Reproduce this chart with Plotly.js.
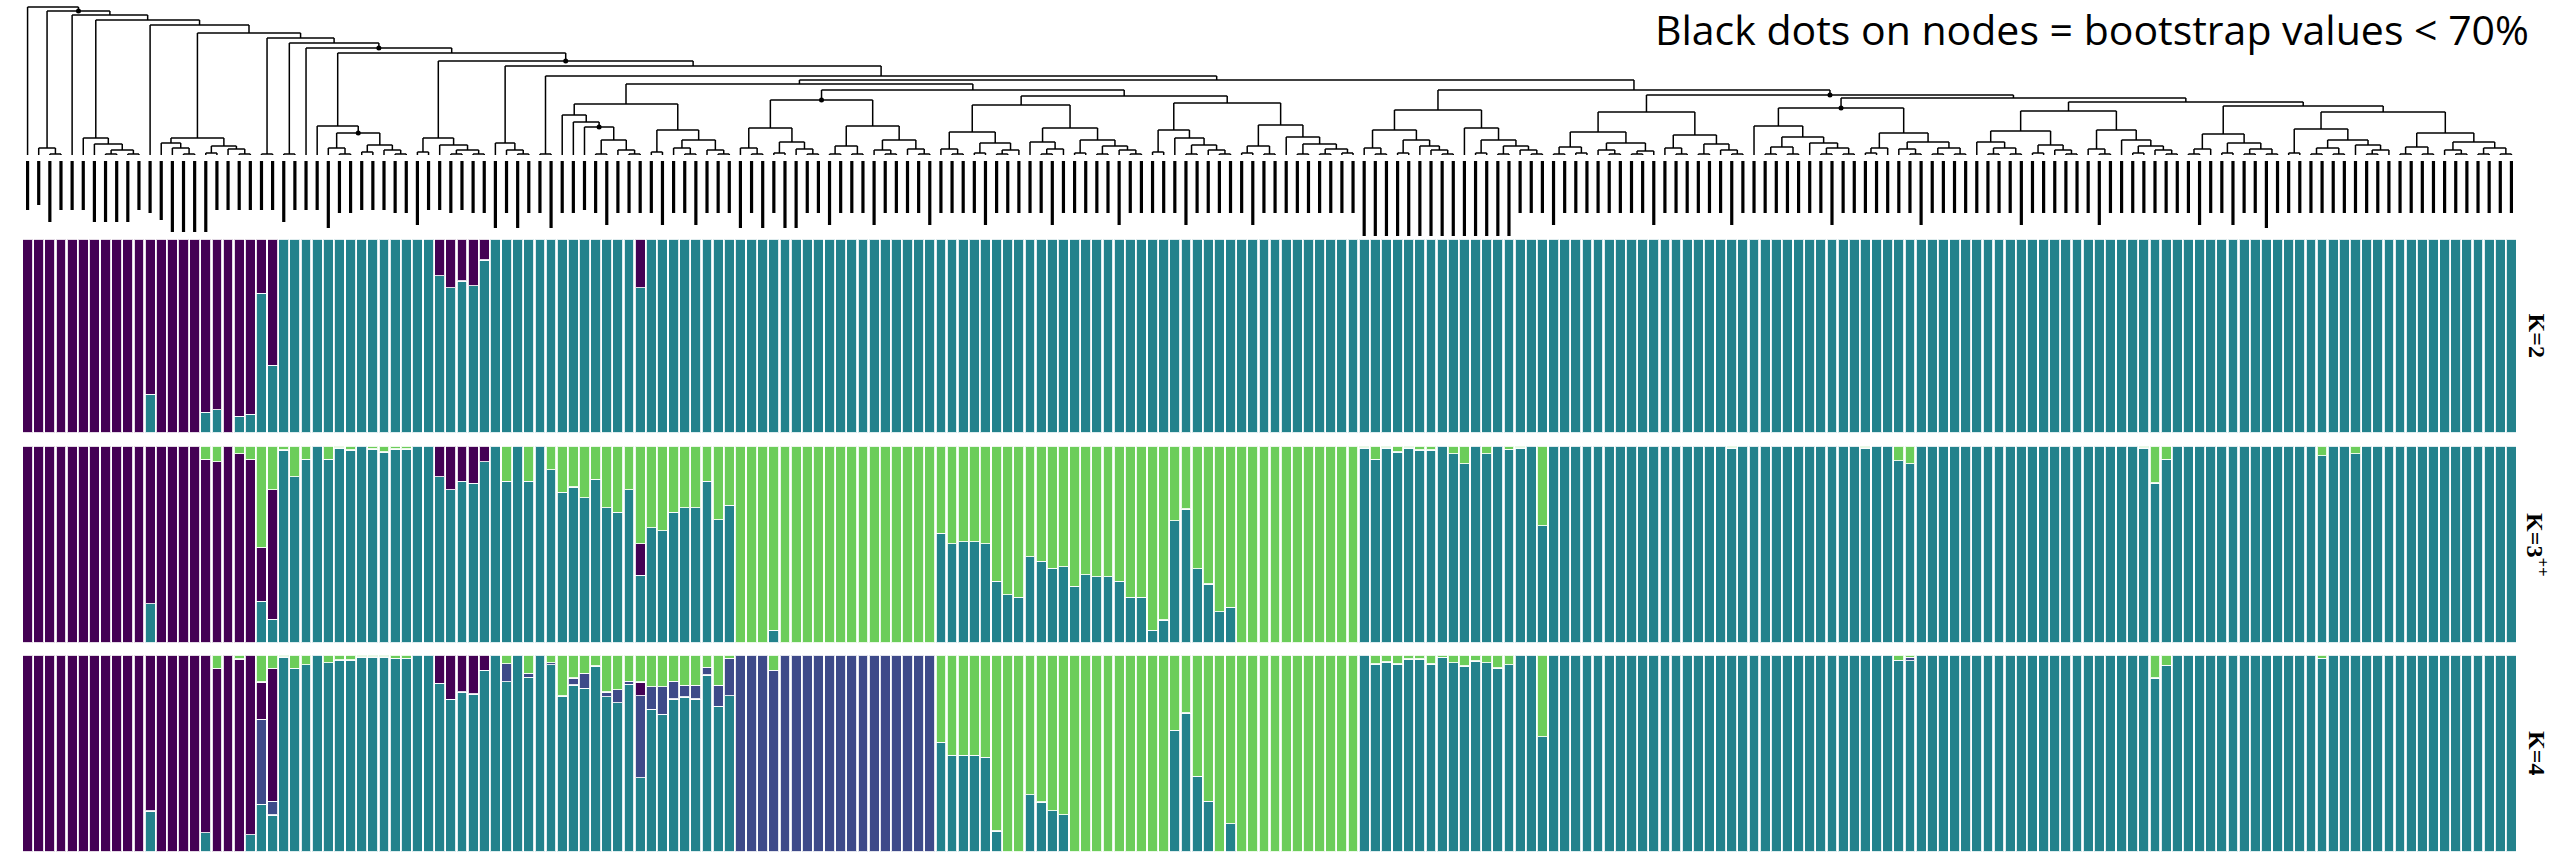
<!DOCTYPE html>
<html><head><meta charset="utf-8">
<script src="https://cdn.plot.ly/plotly-3.0.1.min.js"></script>
<style>html,body{margin:0;padding:0;background:#fff}#chart{width:2554px;height:852px}</style>
</head><body><div id="chart"></div>
<script>
// ---------------- DATA ----------------
// ancestry proportions per sample (224 samples, dendrogram order); teal = remainder
const k2Purple = [
1,1,1,1,1,1,1,1,1,1,1,0.8,1,1,1,1,
0.894,0.88,1,0.914,0.904,0.28,0.65,0,0,0,0,0,0,0,0,0,
0,0,0,0,0,0.19,0.25,0.216,0.24,0.108,0,0,0,0,0,0,
0,0,0,0,0,0,0,0.25,0,0,0,0,0,0,0,0,
0,0,0,0,0,0,0,0,0,0,0,0,0,0,0,0,
0,0,0,0,0,0,0,0,0,0,0,0,0,0,0,0,
0,0,0,0,0,0,0,0,0,0,0,0,0,0,0,0,
0,0,0,0,0,0,0,0,0,0,0,0,0,0,0,0,
0,0,0,0,0,0,0,0,0,0,0,0,0,0,0,0,
0,0,0,0,0,0,0,0,0,0,0,0,0,0,0,0,
0,0,0,0,0,0,0,0,0,0,0,0,0,0,0,0,
0,0,0,0,0,0,0,0,0,0,0,0,0,0,0,0,
0,0,0,0,0,0,0,0,0,0,0,0,0,0,0,0,
0,0,0,0,0,0,0,0,0,0,0,0,0,0,0,0];

const k3Purple = [
1,1,1,1,1,1,1,1,1,1,1,0.8,1,1,1,1,
0.933,0.92,1,0.96,0.933,0.273,0.657,0,0,0,0,0,0,0,0,0,
0,0,0,0,0,0.155,0.222,0.18,0.19,0.08,0,0,0,0,0,0,
0,0,0,0,0,0,0,0.162,0,0,0,0,0,0,0,0,
0,0,0,0,0,0,0,0,0,0,0,0,0,0,0,0,
0,0,0,0,0,0,0,0,0,0,0,0,0,0,0,0,
0,0,0,0,0,0,0,0,0,0,0,0,0,0,0,0,
0,0,0,0,0,0,0,0,0,0,0,0,0,0,0,0,
0,0,0,0,0,0,0,0,0,0,0,0,0,0,0,0,
0,0,0,0,0,0,0,0,0,0,0,0,0,0,0,0,
0,0,0,0,0,0,0,0,0,0,0,0,0,0,0,0,
0,0,0,0,0,0,0,0,0,0,0,0,0,0,0,0,
0,0,0,0,0,0,0,0,0,0,0,0,0,0,0,0,
0,0,0,0,0,0,0,0,0,0,0,0,0,0,0,0];

const k3Green = [
0,0,0,0,0,0,0,0,0,0,0,0,0,0,0,0,
0.067,0.08,0,0.04,0.067,0.515,0.222,0.02,0.155,0.067,0,0.067,0.01,0.02,0,0.015,
0.03,0.015,0.015,0,0,0,0,0,0,0,0,0.18,0,0.18,0,0.12,
0.236,0.208,0.263,0.17,0.313,0.337,0.222,0.495,0.414,0.43,0.337,0.313,0.313,0.18,0.374,0.3,
1,1,1,0.935,1,1,1,1,1,1,1,1,1,1,1,1,
1,1,0.444,0.495,0.485,0.485,0.495,0.687,0.754,0.768,0.562,0.586,0.62,0.612,0.713,0.653,
0.663,0.663,0.687,0.768,0.768,0.935,0.883,0.38,0.32,0.622,0.7,0.842,0.818,1,1,1,
1,1,1,1,1,1,1,1,0.01,0.067,0.01,0.03,0.01,0.02,0.02,0,
0.04,0.09,0,0.04,0,0.016,0.01,0,0.404,0,0,0,0,0,0,0,
0,0,0,0,0,0,0,0,0,0.01,0,0,0,0,0,0,
0,0,0,0,0,0.01,0,0,0.075,0.09,0,0,0,0,0,0,
0,0,0,0,0,0,0,0,0,0,0,0,0,0,0.01,0.188,
0.067,0,0,0,0,0,0,0,0,0,0,0,0,0,0.05,0,
0,0.04,0,0,0,0,0,0,0,0,0,0,0,0,0,0];

const k4Blue = [
0,0,0,0,0,0,0,0,0,0,0,0,0,0,0,0,
0,0,0,0,0,0.43,0.07,0,0,0,0,0,0,0,0,0,
0,0,0,0,0,0,0,0,0,0,0,0.09,0,0.02,0,0.01,
0,0.035,0.077,0,0.024,0.065,0.016,0.415,0.115,0.141,0.09,0.06,0.07,0.04,0.107,0.19,
1,1,1,0.923,1,1,1,1,1,1,1,1,1,1,1,1,
1,1,0,0,0,0,0,0,0,0,0,0,0,0,0,0,
0,0,0,0,0,0,0,0,0,0,0,0,0,0,0,0,
0,0,0,0,0,0,0,0,0,0,0,0,0,0,0,0,
0,0,0,0,0,0,0,0,0,0,0,0,0,0,0,0,
0,0,0,0,0,0,0,0,0,0,0,0,0,0,0,0,
0,0,0,0,0,0,0,0,0,0.016,0,0,0,0,0,0,
0,0,0,0,0,0,0,0,0,0,0,0,0,0,0,0,
0,0,0,0,0,0,0,0,0,0,0,0,0,0,0,0,
0,0,0,0,0,0,0,0,0,0,0,0,0,0,0,0];

const k4Purple = [
1,1,1,1,1,1,1,1,1,1,1,0.792,1,1,1,1,
0.903,0.933,1,0.98,0.913,0.19,0.675,0,0,0,0,0,0,0,0,0,
0,0,0,0,0,0.143,0.224,0.188,0.198,0.077,0,0,0,0,0,0,
0,0,0,0,0,0,0,0.07,0,0,0,0,0,0,0,0,
0,0,0,0,0,0,0,0,0,0,0,0,0,0,0,0,
0,0,0,0,0,0,0,0,0,0,0,0,0,0,0,0,
0,0,0,0,0,0,0,0,0,0,0,0,0,0,0,0,
0,0,0,0,0,0,0,0,0,0,0,0,0,0,0,0,
0,0,0,0,0,0,0,0,0,0,0,0,0,0,0,0,
0,0,0,0,0,0,0,0,0,0,0,0,0,0,0,0,
0,0,0,0,0,0,0,0,0,0,0,0,0,0,0,0,
0,0,0,0,0,0,0,0,0,0,0,0,0,0,0,0,
0,0,0,0,0,0,0,0,0,0,0,0,0,0,0,0,
0,0,0,0,0,0,0,0,0,0,0,0,0,0,0,0];

const k4Green = [
0,0,0,0,0,0,0,0,0,0,0,0,0,0,0,0,
0,0.067,0,0.02,0,0.137,0.067,0.01,0.067,0.05,0,0.04,0.025,0.025,0.01,0.01,
0.01,0.016,0.016,0,0,0,0,0,0,0,0,0.045,0,0.093,0,0.04,
0.208,0.117,0.093,0.056,0.188,0.177,0.133,0.137,0.161,0.161,0.133,0.153,0.153,0.062,0.153,0.016,
0,0,0,0.077,0,0,0,0,0,0,0,0,0,0,0,0,
0,0,0.444,0.51,0.51,0.51,0.52,0.893,1,1,0.71,0.746,0.79,0.81,1,1,
1,1,1,1,1,1,1,0.382,0.294,0.615,0.742,1,0.857,1,1,1,
1,1,1,1,1,1,1,1,0,0.046,0.036,0.046,0.02,0.02,0.046,0.012,
0.04,0.056,0.03,0.04,0.066,0.05,0,0,0.415,0,0,0,0,0,0,0,
0,0,0,0,0,0,0,0,0,0,0,0,0,0,0,0,
0,0,0,0,0,0,0,0,0.026,0.012,0,0,0,0,0,0,
0,0,0,0,0,0,0,0,0,0,0,0,0,0,0,0.117,
0.052,0,0,0,0,0,0,0,0,0,0,0,0,0,0.016,0,
0,0,0,0,0,0,0,0,0,0,0,0,0,0,0,0];

// lower end (px from top of tree panel) of each sample's name mark
const labelEnd = [
210,205,222,210,210,210,222,222,222,222,210,213,220,232,232,232,
232,210,210,210,210,210,210,222,210,210,210,228,213,213,210,210,
210,213,213,225,210,210,213,210,213,213,228,213,228,213,213,228,
213,213,210,213,225,213,213,213,213,225,213,213,225,213,213,213,
228,213,228,213,228,228,213,213,225,213,213,213,225,213,213,213,
213,225,213,213,213,213,225,213,213,213,213,213,225,213,213,213,
213,213,225,213,213,213,213,213,225,213,213,213,213,213,225,213,
213,213,213,213,213,213,213,213,236,236,236,236,236,236,236,236,
236,236,236,236,236,236,213,213,213,225,213,213,213,213,213,213,
213,213,225,213,213,213,213,213,213,225,213,213,213,213,213,213,
213,213,225,213,213,213,213,213,213,213,225,213,213,213,213,213,
213,213,213,225,213,213,213,213,213,213,225,213,213,213,213,213,
213,213,213,225,213,213,225,213,213,228,213,213,213,213,213,213,
213,213,213,213,213,213,213,213,213,213,213,213,213,213,213,213];

// tree topology: '*' = sample, ')h' = node height (px from top), 'd' = bootstrap < 70%
const A1 = "(*,(*,*)154)148";
const A2 = "(*,(*,((*,*)154,(*,*)154)150)144)138";
const A3 = "((*,(*,(*,*)154)148)143,((*,*)153,(*,(*,*)154)149)146)138";
const A4 = "(*,*)154";
const A5 = "(*,*)154";
const A6 = "(*,((*,(*,*)154)148,((*,*)152,(*,(*,*)154)150)145)133d)126";
const A7 = "((*,*)152,(*,((*,*)154,(*,*)154)150)145)138";
const A8 = "(*,(*,(*,*)154)150)143";
const A9 = "(*,*)154";
const G1 = "(*,(*,(*,((*,*)154,(*,(*,*)154)150)140)127d)122)115";
const G2 = "((*,*)152,((*,(*,*)154)148,(*,(*,*)154)150)140)130";
const G3 = "((*,(*,*)154)148,((*,*)153,(*,(*,*)154)149)142)128";
const G4 = "(((*,*)154,(*,*)154)146,((*,(*,*)154)150,(*,(*,*)154)149)140)126";
const G5 = "((*,(*,*)154)149,((*,*)153,((*,*)154,*)150)143)132";
const G6 = "((*,((*,*)154,*)149)142,((*,*)153,((*,*)154,(*,(*,*)154)150)146)140)128";
const G7 = "((*,*)152,(*,((*,*)154,(*,(*,*)154)150)145)138)130";
const G8 = "(((*,*)153,(*,*)154)146,(*,((*,*)154,((*,*)154,(*,*)153)149)144)137)125";
const R1 = "((*,(*,*)154)148,((*,*)153,(*,(*,(*,*)154)150)146)140)130";
const R2 = "(*,((*,*)153,((*,*)154,(*,(*,*)154)150)146)140)128";
const R3 = "(((*,*)154,(*,*)153)147,((*,(*,*)154)150,((*,*)154,*)151)143)132";
const R4 = "((*,(*,*)154)148,((*,*)154,(*,(*,*)154)150)144)135";
const R5 = "(*,(((*,*)154,(*,*)154)147,(*,((*,*)154,(*,*)154)148)143)137)126";
const R6 = "(((*,*)153,*)148,((*,(*,*)154)149,((*,*)154,(*,*)154)148)142)133";
const R7 = "((*,((*,*)154,(*,*)154)148)142,((*,*)153,(*,(*,*)154)150)145)131";
const R8 = "((*,(*,*)154)149,(*,((*,*)153,(*,(*,*)154)150)146)140)130";
const R9 = "(((*,*)154,*)149,((*,*)153,((*,*)154,(*,*)154)149)143)134";
const R10 = "((*,*)153,(((*,*)154,(*,*)154)148,(*,((*,*)154,*)150)145)140)129";
const R11 = "(((*,*)154,(*,*)154)147,((*,(*,*)154)150,((*,*)154,(*,*)154)148)142)133";
const CENTER = "((" + G1 + "," + G2 + ")104,((" + G3 + "," + G4 + ")100d,((" + G5 + "," + G6 + ")105,(" + G7 + "," + G8 + ")103)96)90)84";
const RIGHT = "((" + R1 + "," + R2 + ")110,((" + R3 + "," + R4 + ")112,((" + R5 + "," + R6 + ")108d,((" + R7 + "," + R8 + ")111,(" + R9 + ",(" + R10 + "," + R11 + ")112)106)102)98)95d)90";
const TREE = "(*,(" + A1 + ",(*,(" + A2 + ",(*,(" + A3 + ",(" + A4 + ",(" + A5 + ",(*,(" + A6 + ",(" + A7 + ",(" + A8 + ",(" + A9 + ",(" + CENTER + "," + RIGHT + ")80)76)66)61d)53)48d)43)38)33)25)20)15)11d)7";

const panelLabels = ["K=2", "K=3<sup>++</sup>", "K=4"];
const titleText = "Black dots on nodes = bootstrap values < 70%";

// ---------------- BUILD ----------------
const N = k2Purple.length;
const idx = k2Purple.map((_, i) => i);
const LEAF_Y = 155, LABEL_TOP = 161;

function parseTree(s) {
  let i = 0;
  function node() {
    if (s[i] === '(') {
      i++;
      const kids = [node()];
      while (s[i] === ',') { i++; kids.push(node()); }
      i++; // ')'
      let num = '';
      while (i < s.length && /[0-9.]/.test(s[i])) num += s[i++];
      let dot = false;
      if (s[i] === 'd') { dot = true; i++; }
      return { kids, h: parseFloat(num), dot };
    }
    i++;
    return { leaf: true };
  }
  return node();
}
const root = parseTree(TREE);
let leafCounter = 0;
function place(n) {
  if (n.leaf) { n.x = leafCounter++; n.y = LEAF_Y; return; }
  n.kids.forEach(place);
  n.x = (n.kids[0].x + n.kids[n.kids.length - 1].x) / 2;
  n.y = n.h;
}
place(root);
const tx = [], ty = [], dx = [], dy = [];
function draw(n) {
  if (n.leaf) return;
  tx.push(n.kids[0].x, n.kids[n.kids.length - 1].x, null);
  ty.push(n.y, n.y, null);
  n.kids.forEach(k => { tx.push(k.x, k.x, null); ty.push(n.y, k.y, null); draw(k); });
  if (n.dot) { dx.push(n.x); dy.push(n.y); }
}
draw(root);
const lx = [], ly = [];
idx.forEach(i => { lx.push(i, i, null); ly.push(LABEL_TOP, labelEnd[i], null); });

const C = { purple: '#440154', blue: '#3e4a89', teal: '#23828c', green: '#6ccd5a' };
const nz = a => a.map(v => v > 0.0005 ? v : null);
const remainder = parts => idx.map(i => Math.max(0, 1 - parts.reduce((s, a) => s + a[i], 0)));
function bar(vals, color, yaxis) {
  return { type: 'bar', x: idx, y: nz(vals), xaxis: 'x', yaxis: yaxis,
    marker: { color: color, line: { color: 'rgba(255,255,255,0.85)', width: 1.2 } },
    hoverinfo: 'skip', showlegend: false };
}
const traces = [
  bar(remainder([k2Purple]), C.teal, 'y2'),
  bar(k2Purple, C.purple, 'y2'),
  bar(remainder([k3Purple, k3Green]), C.teal, 'y3'),
  bar(k3Purple, C.purple, 'y3'),
  bar(k3Green, C.green, 'y3'),
  bar(remainder([k4Blue, k4Purple, k4Green]), C.teal, 'y4'),
  bar(k4Blue, C.blue, 'y4'),
  bar(k4Purple, C.purple, 'y4'),
  bar(k4Green, C.green, 'y4'),
  { type: 'scatter', mode: 'lines', x: tx, y: ty, xaxis: 'x', yaxis: 'y',
    line: { color: '#000', width: 1.5 }, hoverinfo: 'skip', showlegend: false },
  { type: 'scatter', mode: 'lines', x: lx, y: ly, xaxis: 'x', yaxis: 'y',
    line: { color: '#000', width: 3.2 }, hoverinfo: 'skip', showlegend: false },
  { type: 'scatter', mode: 'markers', x: dx, y: dy, xaxis: 'x', yaxis: 'y',
    marker: { color: '#000', size: 5 }, hoverinfo: 'skip', showlegend: false }
];

const H = 852;
const dom = (top, bot) => [1 - bot / H, 1 - top / H];
const panels = [dom(239, 433), dom(446, 643), dom(655, 852)];
const hidden = { visible: false, showgrid: false, zeroline: false, fixedrange: true };
const layout = {
  width: 2554, height: 852,
  margin: { l: 22, r: 37, t: 0, b: 0 },
  paper_bgcolor: '#fff', plot_bgcolor: 'rgba(0,0,0,0)',
  barmode: 'stack', bargap: 0.1,
  xaxis: Object.assign({ range: [-0.5, N - 0.5], domain: [0, 1], anchor: 'y4' }, hidden),
  yaxis: Object.assign({ range: [239, 0], domain: dom(0, 239), anchor: 'x' }, hidden),
  yaxis2: Object.assign({ range: [0, 1], domain: panels[0], anchor: 'x' }, hidden),
  yaxis3: Object.assign({ range: [0, 1], domain: panels[1], anchor: 'x' }, hidden),
  yaxis4: Object.assign({ range: [0, 1], domain: panels[2], anchor: 'x' }, hidden),
  annotations: [
    { text: titleText, xref: 'paper', yref: 'paper', x: 1.0052, y: 1.0, xanchor: 'right', yanchor: 'top',
      borderpad: 0, showarrow: false, font: { family: 'Open Sans', size: 41, color: '#000' } }
  ].concat(panelLabels.map((t, k) => ({
    text: '<b>' + t + '</b>', xref: 'paper', yref: 'paper', x: 1.0082,
    y: (panels[k][0] + panels[k][1]) / 2, xanchor: 'center', yanchor: 'middle', textangle: 90,
    showarrow: false, font: { family: 'Liberation Serif', size: 24, color: '#000' }
  })))
};
Plotly.newPlot('chart', traces, layout, { staticPlot: true, displayModeBar: false });
</script></body></html>
